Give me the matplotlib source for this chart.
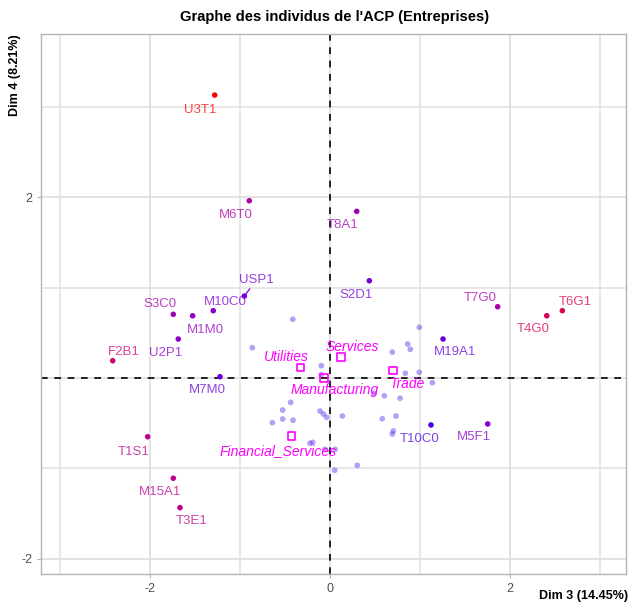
import matplotlib
matplotlib.use("Agg")
import matplotlib.pyplot as plt
import numpy as np
from matplotlib.colors import LinearSegmentedColormap

plt.rcParams['font.family'] = ['Liberation Sans', 'DejaVu Sans']
plt.rcParams['axes.unicode_minus'] = False

# individus les plus contributifs (Dim 3, Dim 4)
ind_names = ["U3T1", "M6T0", "USP1", "M10C0", "M1M0", "S3C0", "U2P1", "F2B1",
             "M7M0", "T1S1", "M15A1", "T3E1", "T8A1", "S2D1", "T7G0", "T6G1",
             "T4G0", "M19A1", "T10C0", "M5F1"]
ind_dim3 = [-1.281, -0.897, -0.952, -1.297, -1.526, -1.741, -1.686, -2.414,
            -1.222, -2.026, -1.741, -1.667, 0.297, 0.437, 1.863, 2.581,
            2.408, 1.256, 1.122, 1.752]
ind_dim4 = [3.127, 1.959, 0.906, 0.744, 0.688, 0.704, 0.431, 0.191,
            0.014, -0.649, -1.108, -1.433, 1.842, 1.075, 0.788, 0.744,
            0.688, 0.431, -0.519, -0.508]
ind_contrib = [1.00, 0.48, 0.22, 0.25, 0.33, 0.40, 0.30, 0.68,
               0.20, 0.58, 0.55, 0.58, 0.40, 0.22, 0.45, 0.78,
               0.76, 0.20, 0.15, 0.28]

# autres individus (non sélectionnés)
other_dim3 = [-0.414, -0.863, -0.097, -0.097, 0.992, 0.863, 0.892, 0.692,
              0.837, 0.992, 1.137, 0.603, 0.778, 0.489, -0.437, -0.526,
              -0.526, -0.411, -0.641, -0.111, -0.074, -0.037, 0.137, 0.581,
              0.733, 0.703, 0.692, -0.222, -0.192, -0.056, 0.056, 0.303, 0.052]
other_dim4 = [0.649, 0.335, 0.136, 0.036, 0.560, 0.376, 0.317, 0.287,
              0.052, 0.063, -0.052, -0.196, -0.224, -0.169, -0.269, -0.354,
              -0.453, -0.467, -0.494, -0.365, -0.398, -0.434, -0.420, -0.450,
              -0.420, -0.586, -0.619, -0.722, -0.711, -0.788, -0.788, -0.965, -1.020]

# modalités de la variable qualitative supplémentaire
sect_names = ["Utilities", "Services", "Manufacturing", "Trade", "Financial_Services"]
sect_dim3 = [-0.330, 0.119, -0.067, 0.697, -0.426]
sect_dim4 = [0.118, 0.229, -0.003, 0.085, -0.638]

# décalage des étiquettes (pixels)
ind_offsets = {
    "U3T1": (-15, -15), "M6T0": (-13, -14), "USP1": (12, 16), "M10C0": (12, 9),
    "M1M0": (13, -14), "S3C0": (-13, 10), "U2P1": (-13, -14), "F2B1": (11, 9),
    "M7M0": (-13, -13), "T1S1": (-14, -15), "M15A1": (-13, -14), "T3E1": (12, -13),
    "T8A1": (-14, -14), "S2D1": (-13, -14), "T7G0": (-17, 9), "T6G1": (13, 9),
    "T4G0": (-13, -13), "M19A1": (12, -13), "T10C0": (-11, -14), "M5F1": (-14, -13),
}
sect_offsets = {
    "Utilities": (-14, 10), "Services": (12, 10), "Manufacturing": (11, -12),
    "Trade": (15, -14), "Financial_Services": (-14, -15),
}

cmap = LinearSegmentedColormap.from_list(
    "contrib", ["#0000ff", "#8200d2", "#b4009e", "#d6005e", "#ff0000"])

fig = plt.figure(figsize=(6.33, 6.09), dpi=100)
ax = fig.add_axes([0.0652, 0.0575, 0.9238, 0.8865])

ax.set_xlim(-3.208, 3.289)
ax.set_ylim(-2.166, 3.801)

# grille
for v in [-3, -1, 1, 3]:
    ax.axvline(v, color="#e3e3e3", lw=1.2, zorder=0)
    ax.axhline(v, color="#e3e3e3", lw=1.2, zorder=0)
for v in [-2, 0, 2]:
    ax.axvline(v, color="#e0e0e0", lw=1.3, zorder=0)
    ax.axhline(v, color="#e0e0e0", lw=1.3, zorder=0)

ax.axvline(0, color="black", lw=1.2, ls=(0, (4, 4)), zorder=1)
ax.axhline(0, color="black", lw=1.2, ls=(0, (4, 4)), zorder=1)

ax.scatter(other_dim3, other_dim4, s=17, color="#5a2ee8", alpha=0.45,
           edgecolors="none", zorder=2)

colors = cmap(np.array(ind_contrib))
ax.scatter(ind_dim3, ind_dim4, s=16, c=colors, edgecolors="none", zorder=3)

for name, x, y, col in zip(ind_names, ind_dim3, ind_dim4, colors):
    dx, dy = ind_offsets[name]
    arrow = None
    if name == "USP1":
        arrow = dict(arrowstyle="-", color=col, lw=0.9, shrinkA=0, shrinkB=2)
    ax.annotate(name, (x, y), xytext=(dx, dy), textcoords="offset pixels",
                ha="center", va="center", fontsize=9.5, color=col, alpha=0.75,
                arrowprops=arrow, zorder=4)

ax.scatter(sect_dim3, sect_dim4, s=30, marker="s", facecolors="none",
           edgecolors="#ff00ff", linewidths=1.2, zorder=3)
for name, x, y in zip(sect_names, sect_dim3, sect_dim4):
    dx, dy = sect_offsets[name]
    ax.annotate(name, (x, y), xytext=(dx, dy), textcoords="offset pixels",
                ha="center", va="center", fontsize=10, color="#ff00ff",
                style="italic", zorder=4)

ax.set_xticks([-2, 0, 2])
ax.set_yticks([-2, 2])
ax.tick_params(labelsize=9, length=3, width=0.8)
ax.tick_params(axis="both", colors="#b3b3b3", labelcolor="#4d4d4d")
for side in ["left", "bottom", "top", "right"]:
    ax.spines[side].set_color("#b3b3b3")
    ax.spines[side].set_linewidth(1.0)

fig.text(0.528, 0.972, "Graphe des individus de l'ACP (Entreprises)",
         ha="center", va="center", fontsize=10.6, fontweight="bold")
fig.text(0.992, 0.012, "Dim 3 (14.45%)", ha="right", va="bottom",
         fontsize=9, fontweight="bold")
fig.text(0.024, 0.944, "Dim 4 (8.21%)", ha="center", va="top", rotation=90,
         fontsize=9, fontweight="bold")

fig.savefig("out.png", dpi=100)
